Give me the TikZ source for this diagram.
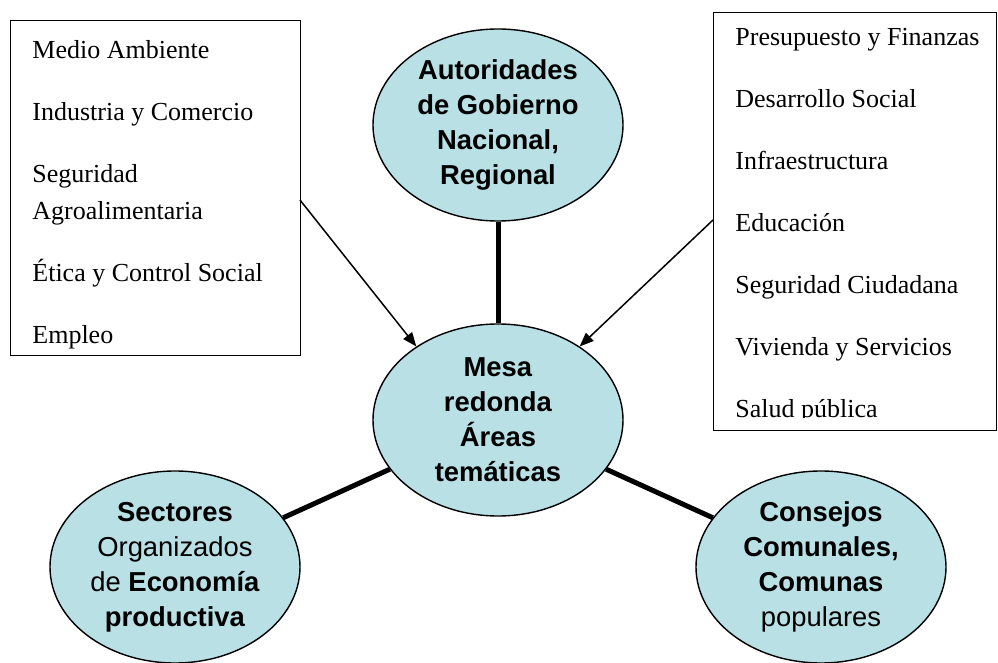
\documentclass[tikz,border=0pt]{standalone}
\usepackage{fontspec}
\setmainfont{Liberation Serif}
\setsansfont{Liberation Sans}
\usepackage{xcolor}
\usepackage{tikz}
\usetikzlibrary{arrows.meta,positioning,shapes.geometric}
\definecolor{areafill}{RGB}{185,224,228}

\begin{document}
\begin{tikzpicture}[
    x=0.5pt, y=-0.5pt,
    area/.style={
      ellipse, draw=black, line width=0.7pt, fill=areafill,
      minimum width=125pt, minimum height=96pt, inner sep=0pt,
      align=center, font=\sffamily\fontsize{13.7}{17.5}\selectfont
    },
    listbox/.style={rectangle, draw=black, line width=0.7pt, inner sep=0pt, anchor=north west},
    listtext/.style={anchor=north west, inner sep=0pt, align=left,
      font=\rmfamily\fontsize{13}{18.5}\selectfont},
    link/.style={line width=2.5pt},
    arrow/.style={-{Triangle[length=7pt,width=5.5pt]}, line width=0.75pt}
  ]
  \useasboundingbox (0,0) rectangle (998,663);

  \node[area] (mesa) at (498,420) {\textbf{Mesa}\\ \textbf{redonda}\\ \textbf{Áreas}\\ \textbf{temáticas}};
  \node[area] (gob)  at (498,125) {\textbf{Autoridades}\\ \textbf{de Gobierno}\\ \textbf{Nacional,}\\ \textbf{Regional}};
  \node[area] (sect) at (175,567) {\textbf{Sectores}\\ Organizados\\ de \textbf{Economía}\\ \textbf{productiva}};
  \node[area] (cons) at (821,567) {\textbf{Consejos}\\ \textbf{Comunales,}\\ \textbf{Comunas}\\ populares};

  \node[listbox, minimum width=145pt, minimum height=167.5pt] (lbox) at (10,20) {};
  \node[listtext] (ltext) at (32,40) {Medio Ambiente\\[12.5pt] Industria y Comercio\\[12.5pt]
    Seguridad\\ Agroalimentaria\\[12.5pt] Ética y Control Social\\[12.5pt] Empleo};

  \node[listbox, minimum width=141.5pt, minimum height=209pt] (rbox) at (713,12) {};
  \begin{scope}
    \clip (713,12) rectangle (996,418);
    \node[listtext] (rtext) at (735,28) {Presupuesto y Finanzas\\[12.5pt] Desarrollo Social\\[12.5pt]
      Infraestructura\\[12.5pt] Educación\\[12.5pt] Seguridad Ciudadana\\[12.5pt]
      Vivienda y Servicios\\[12.5pt] Salud pública};
  \end{scope}

  \coordinate (lfrom) at (300,200);
  \coordinate (rfrom) at (713,220);

  \draw[link] (gob) -- (mesa);
  \draw[link] (mesa) -- (sect);
  \draw[link] (mesa) -- (cons);
  \draw[arrow] (lfrom) -- (mesa.138);
  \draw[arrow] (rfrom) -- (mesa.42);
\end{tikzpicture}
\end{document}
